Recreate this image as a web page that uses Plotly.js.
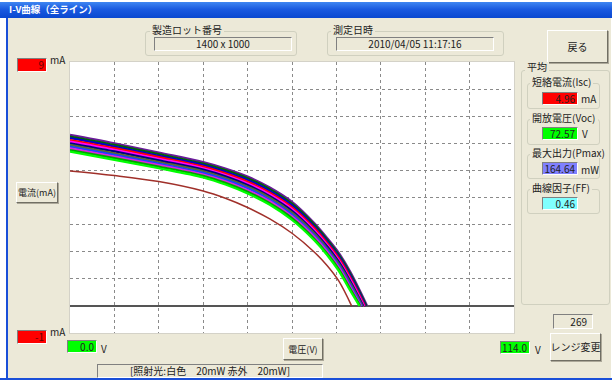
<!DOCTYPE html>
<html><head><meta charset="utf-8">
<script src="https://cdn.plot.ly/plotly-3.0.1.min.js"></script>
<style>
html,body{margin:0;padding:0;background:#fff;width:612px;height:381px;overflow:hidden;font-family:"Noto Sans CJK JP","Noto Sans",sans-serif;}
.el{position:absolute;box-sizing:border-box;font-size:10px;color:#222;white-space:nowrap;line-height:1;}
#plot{position:absolute;left:0;top:0;width:612px;height:381px;z-index:1;}
</style></head>
<body>
<div id="plot"></div>
<script>
// ---- data ----
const voltagePts = [0, 11.4, 22.8, 34.2, 39.9, 45.6, 51.3, 57.0, 62.7, 66.0, 69.0, 72.0];
const curvePurple   = [6.31, 6.00, 5.66, 5.31, 5.07, 4.77, 4.37, 3.84, 3.06, 2.51, 1.96, 1.25];
const curveDkGreen  = [6.25, 5.94, 5.60, 5.25, 5.01, 4.71, 4.31, 3.77, 3.00, 2.45, 1.89, 1.18];
const curveBlue     = [6.19, 5.88, 5.54, 5.20, 4.95, 4.65, 4.24, 3.71, 2.93, 2.38, 1.83, 1.11];
const curveRed      = [6.12, 5.82, 5.49, 5.14, 4.89, 4.58, 4.18, 3.64, 2.87, 2.32, 1.76, 1.04];
const curveMagenta1 = [6.06, 5.76, 5.43, 5.08, 4.83, 4.52, 4.11, 3.57, 2.80, 2.26, 1.69, 0.97];
const curveNavy     = [6.00, 5.70, 5.37, 5.03, 4.78, 4.46, 4.05, 3.51, 2.74, 2.20, 1.63, 0.90];
const curveOlive    = [5.94, 5.63, 5.31, 4.97, 4.72, 4.40, 3.99, 3.44, 2.68, 2.13, 1.56, 0.83];
const curveBlue2    = [5.88, 5.57, 5.25, 4.91, 4.66, 4.34, 3.92, 3.37, 2.61, 2.07, 1.49, 0.76];
const curveMagenta2 = [5.81, 5.51, 5.20, 4.85, 4.60, 4.27, 3.86, 3.30, 2.55, 2.01, 1.43, 0.69];
const curveGreen    = [5.75, 5.45, 5.14, 4.80, 4.54, 4.21, 3.79, 3.24, 2.48, 1.94, 1.36, 0.62];
const curveLime     = [5.69, 5.39, 5.08, 4.74, 4.48, 4.15, 3.73, 3.17, 2.42, 1.88, 1.29, 0.55];
const curveBrown    = [4.98, 4.81, 4.59, 4.24, 3.97, 3.63, 3.21, 2.68, 1.99, 1.49, 0.92];
const bandCurves = [curvePurple, curveDkGreen, curveBlue, curveRed, curveMagenta1, curveNavy, curveOlive, curveBlue2, curveMagenta2, curveGreen, curveLime];
const bandVocs   = [76.3, 76.1, 75.9, 75.7, 75.5, 75.3, 75.1, 74.9, 74.7, 74.5, 74.3];
const bandColors = ["#6a1a9a", "#006400", "#0000CC", "#FF0000", "#FF00FF", "#000080", "#556B2F", "#1E3CFF", "#E020E0", "#00A000", "#00FF00"];
const brownVoc = 72.3;
const xMin = 0, xMax = 114.0, yMin = -1, yMax = 9;
const xMinLabel = "0.0", xMaxLabel = "114.0", yMinLabel = "-1", yMaxLabel = "9";
const lotNo = "1400 x 1000";
const measuredAt = "2010/04/05 11:17:16";
const avgIsc = "4.96", avgVoc = "72.57", avgPmax = "164.64", avgFF = "0.46";
const curveCount = "269";
const footnote = "[照射光:白色　20mW 赤外　20mW]";

// ---- plot ----
const traces = [];
bandCurves.forEach((c, i) => {
  traces.push({x: voltagePts.slice(0, c.length).concat([bandVocs[i]]), y: c.concat([0]), mode: 'lines',
    line: {color: bandColors[i], width: 2.2, shape: 'spline', smoothing: 1}, hoverinfo: 'skip'});
});
traces.push({x: voltagePts.slice(0, curveBrown.length).concat([brownVoc]), y: curveBrown.concat([0]), mode: 'lines',
  line: {color: '#A0302A', width: 1.5, shape: 'spline', smoothing: 1}, hoverinfo: 'skip'});

const layout = {
  width: 612, height: 381,
  margin: {l: 70, r: 98, t: 62, b: 48, pad: 0},
  paper_bgcolor: 'rgba(0,0,0,0)', plot_bgcolor: '#ffffff',
  showlegend: false,
  xaxis: {range: [xMin, xMax], tick0: 0, dtick: (xMax - xMin) / 10, showticklabels: false, ticks: '',
    showgrid: true, gridcolor: '#8a8a8a', griddash: 'dot', gridwidth: 1, zeroline: false,
    showline: true, linecolor: '#d4d2c8', linewidth: 1, mirror: true},
  yaxis: {range: [yMin, yMax], tick0: 0, dtick: 1, showticklabels: false, ticks: '',
    showgrid: true, gridcolor: '#8a8a8a', griddash: 'dot', gridwidth: 1,
    zeroline: true, zerolinecolor: '#555555', zerolinewidth: 2,
    showline: true, linecolor: '#d4d2c8', linewidth: 1, mirror: true}
};
Plotly.newPlot('plot', traces, layout, {staticPlot: true, displayModeBar: false});

// ---- window chrome ----
function el(x, y, w, h, css, text, z) {
  const d = document.createElement('div');
  d.className = 'el';
  d.style.left = x + 'px'; d.style.top = y + 'px';
  d.style.width = w + 'px'; d.style.height = h + 'px';
  d.style.zIndex = z === undefined ? 2 : z;
  if (css) d.style.cssText += css;
  if (text !== undefined) d.textContent = text;
  document.body.appendChild(d);
  return d;
}
const beige = '#ECE9D8';
const sunken = 'border-top:1px solid #808080;border-left:1px solid #808080;border-bottom:1px solid #fff;border-right:1px solid #fff;';
const raised = 'border-top:1px solid #fff;border-left:1px solid #fff;border-bottom:1px solid #716f64;border-right:1px solid #716f64;box-shadow:1px 1px 0 #aca899;background:' + beige + ';display:flex;align-items:center;justify-content:center;';
const group = 'border:1px solid #d0d0bf;border-radius:3px;';
const lbl = 'background:' + beige + ';padding:0 2px;height:auto;width:auto;';
const valBox = (bg) => sunken + 'background:' + bg + ';text-align:right;padding-right:2px;display:flex;align-items:center;justify-content:flex-end;';

// window body
el(7, 17, 604, 362, 'background:' + beige + ';', undefined, 0);
el(6, 17, 2, 362, 'background:#1a4fd8;', undefined, 3);
el(0, 378, 612, 2, 'background:#1a4fd8;', undefined, 3);
el(0, 2, 612, 16, 'background:linear-gradient(#3f86f2,#1a5ae0 45%,#0a48d0);color:#fff;font-weight:bold;padding-left:9px;display:flex;align-items:center;font-size:9.5px;', 'I-V曲線（全ライン）', 3);

// lot no / measured at
el(145, 31, 152, 25, group);
el(150, 25, 0, 0, lbl, '製造ロット番号');
el(154, 37, 138, 14, sunken + 'display:flex;align-items:center;justify-content:center;', lotNo);
el(327, 31, 177, 25, group);
el(331, 25, 0, 0, lbl, '測定日時');
el(336, 37, 158, 14, sunken + 'display:flex;align-items:center;justify-content:center;', measuredAt);

// back button
el(547, 30, 61, 33, raised, '戻る');

// average panel
el(521, 70, 89, 235, group);
el(525, 62, 0, 0, lbl, '平均');
el(527, 83, 73, 26, group);
el(530, 77, 0, 0, lbl, '短絡電流(Isc)');
el(542, 92, 36, 13, valBox('#ff0000'), avgIsc);
el(581, 94, 0, 0, 'width:auto;height:auto;', 'mA');
el(527, 119, 73, 26, group);
el(530, 113, 0, 0, lbl, '開放電圧(Voc)');
el(542, 127, 36, 13, valBox('#00ff00'), avgVoc);
el(582, 129, 0, 0, 'width:auto;height:auto;', 'V');
el(527, 154, 73, 25, group);
el(530, 148, 0, 0, lbl, '最大出力(Pmax)');
el(542, 162, 36, 13, valBox('#8080ff'), avgPmax);
el(581, 165, 0, 0, 'width:auto;height:auto;', 'mW');
el(527, 189, 73, 25, group);
el(530, 183, 0, 0, lbl, '曲線因子(FF)');
el(542, 197, 36, 13, valBox('#80ffff'), avgFF);

// count + range button
el(553, 314, 40, 15, sunken + 'display:flex;align-items:center;justify-content:flex-end;padding-right:5px;', curveCount);
el(550, 333, 51, 28, raised, 'レンジ変更');

// y range boxes
el(17, 58, 30, 14, valBox('#ff0000') + 'color:#600;', yMaxLabel);
el(50, 55, 0, 0, 'width:auto;height:auto;', 'mA');
el(17, 330, 30, 14, valBox('#ff0000') + 'color:#600;', yMinLabel);
el(50, 327, 0, 0, 'width:auto;height:auto;', 'mA');
el(16, 182, 42, 21, raised + 'font-size:9px;', '電流(mA)');

// x range boxes
el(67, 340, 30, 13, valBox('#00ff00'), xMinLabel);
el(101, 344, 0, 0, 'width:auto;height:auto;', 'V');
el(500, 341, 30, 13, valBox('#00ff00'), xMaxLabel);
el(535, 345, 0, 0, 'width:auto;height:auto;', 'V');
el(283, 338, 40, 22, raised + 'font-size:9px;', '電圧(V)');

// footnote field
el(97, 364, 226, 14, sunken + 'display:flex;align-items:center;justify-content:center;', footnote);
</script>
</body></html>
